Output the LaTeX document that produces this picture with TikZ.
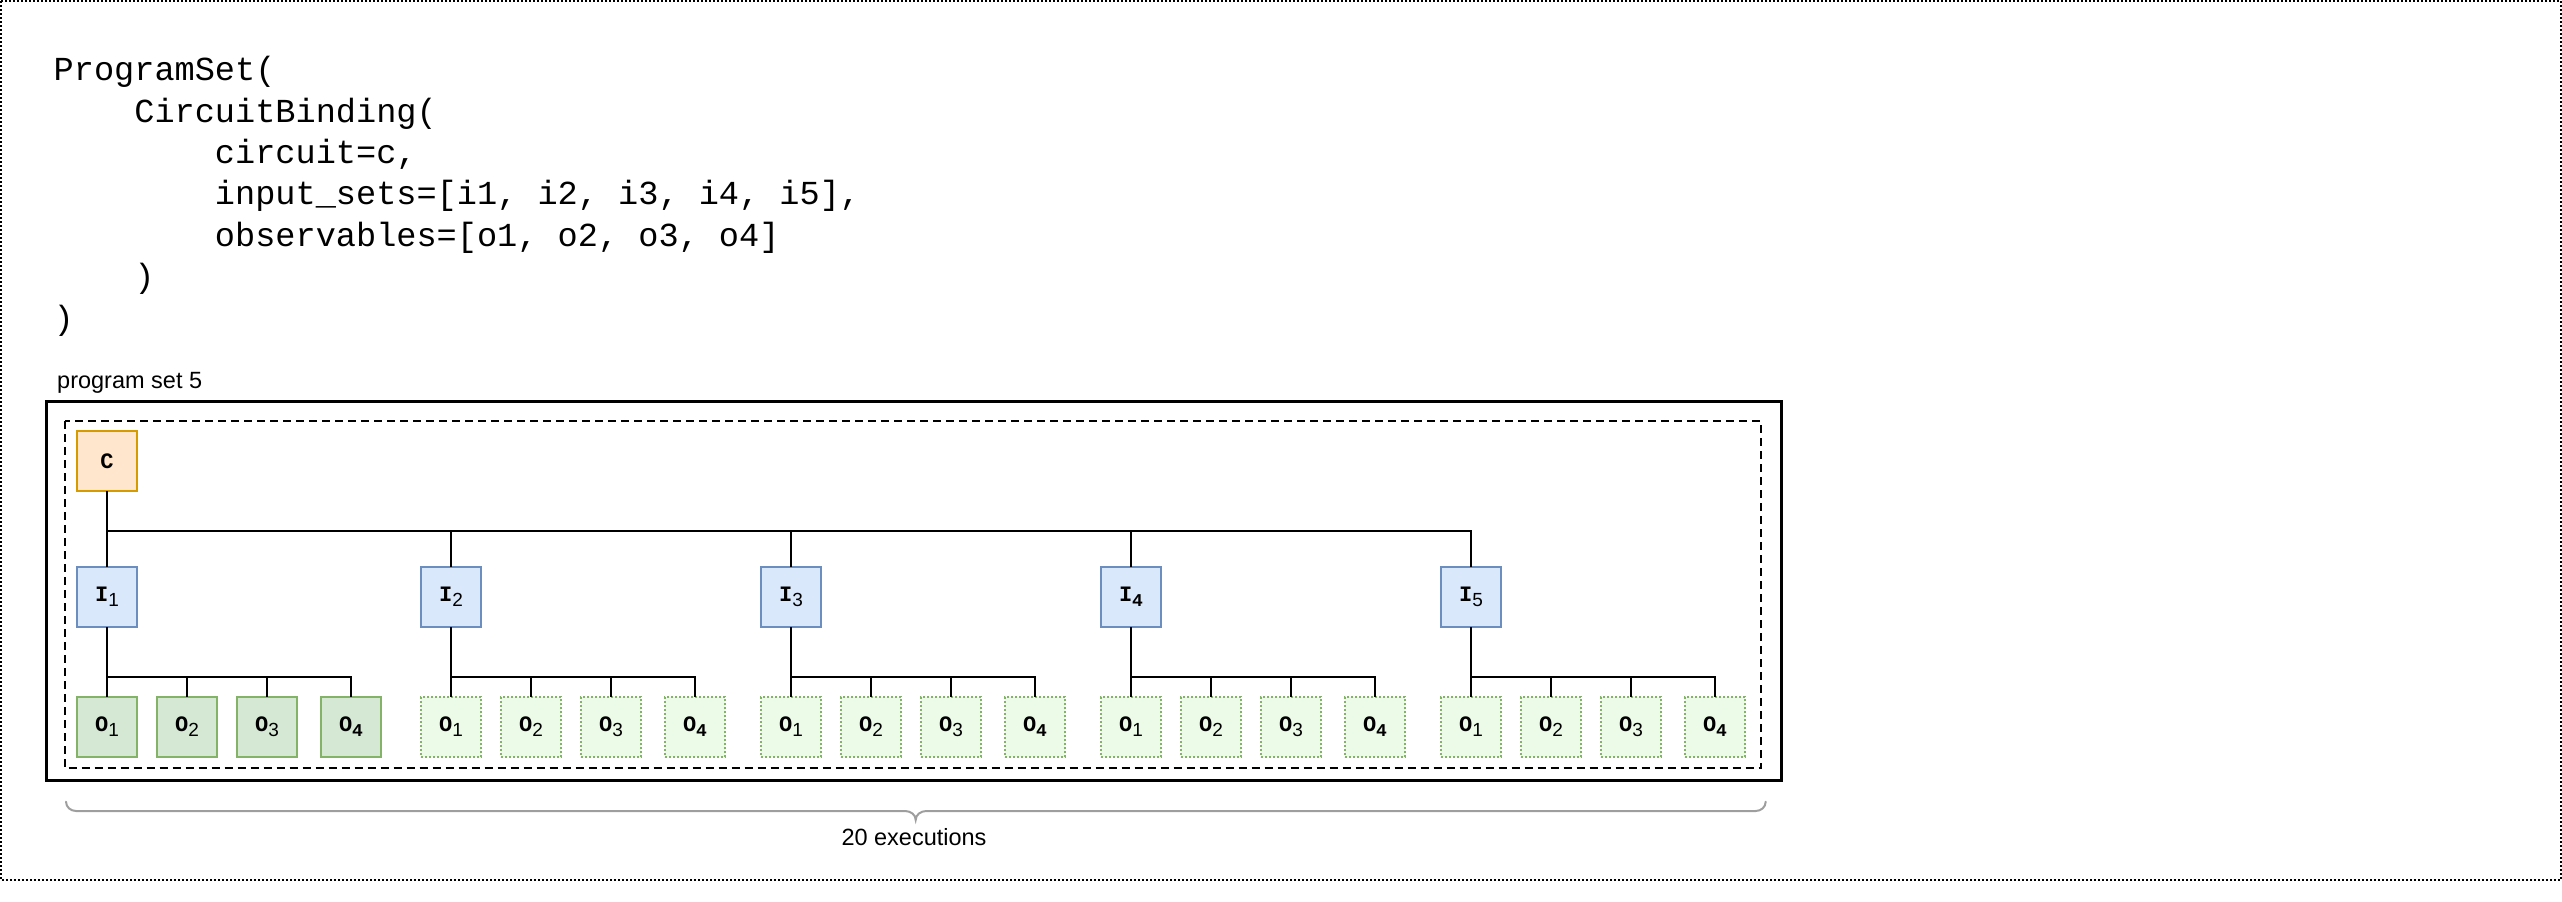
\documentclass[tikz,border=0pt]{standalone}
\usepackage{fontspec}
\setsansfont{Liberation Sans}
\setmonofont{Liberation Mono}
\usetikzlibrary{calc}
\definecolor{circfill}{HTML}{FFE6CC}
\definecolor{circline}{HTML}{D79B00}
\definecolor{inpfill}{HTML}{DAE8FC}
\definecolor{inpline}{HTML}{6C8EBF}
\definecolor{obsfill}{HTML}{D5E8D4}
\definecolor{obsline}{HTML}{82B366}
\definecolor{ghostfill}{HTML}{ECFAE8}
\definecolor{bracegray}{HTML}{9E9E9E}

\newcommand{\subdigit}[1]{\ifnum#1=4\relax{\fontsize{18}{18}\selectfont\ttfamily\bfseries 4}\else{\fontsize{19}{19}\selectfont\sffamily #1}\fi}
\newcommand{\boxlabel}[2]{{\ttfamily\bfseries #1}\raisebox{-5pt}{\subdigit{#2}}}

\begin{document}
\begin{tikzpicture}[x=1pt,y=1pt,
	conn/.style={line width=2pt},
	sq/.style={line width=2pt,minimum width=60pt,minimum height=60pt,inner sep=0pt,outer sep=0pt,font=\fontsize{22}{22}\selectfont},
	cbox/.style={sq,draw=circline,fill=circfill},
	ibox/.style={sq,draw=inpline,fill=inpfill},
	obox/.style={sq,draw=obsline,fill=obsfill},
	gbox/.style={sq,draw=obsline,fill=ghostfill,dash pattern=on 2pt off 2pt},
	code/.style={anchor=base west,inner sep=0pt,font=\fontsize{33.6}{41.4}\selectfont\ttfamily},
	caption/.style={inner sep=0pt,font=\fontsize{23.5}{23.5}\selectfont\sffamily},
	brace/.style={draw=bracegray,line width=2pt,line cap=round}]
	\useasboundingbox (0,0) rectangle (2562,-902);
	
	% outer frame
	\draw[line width=2pt,dash pattern=on 2pt off 2pt] (1,-1) rectangle (2561,-880);
	
	% code
	\foreach \ind/\txt [count=\n] in {0/{ProgramSet(},4/{CircuitBinding(},8/{circuit=c,},8/{input\_sets=[i1, i2, i3, i4, i5],},8/{observables=[o1, o2, o3, o4]},4/{)},0/{)}}{
		\node[code] (line\n) at ({53.5+20.16*\ind},{-80.7-41.4*(\n-1)}) {\txt};}
	
	% program set
	\node[caption,anchor=base west] (setname) at (57,-388.3) {program set 5};
	\draw[line width=3pt] (46,-401) rectangle (1781,-780.7);
	\draw[line width=2pt,dash pattern=on 8pt off 5pt] (65,-421) rectangle (1761,-768.3);
	
	\node[cbox] (c) at (107,-461) {\ttfamily\bfseries C};
	
	\foreach \g/\x/\st in {1/107/obox,2/451/gbox,3/791/gbox,4/1131/gbox,5/1471/gbox}{
		\node[ibox] (i\g) at (\x,-597) {\boxlabel{I}{\g}};
		\draw[conn] (c.south) -- ++(0,-40) -| (i\g.north);
		\foreach \k/\dx in {1/0,2/80,3/160,4/244}{
			\node[\st] (o\g\k) at (\x+\dx,-727) {\boxlabel{O}{\k}};
			\draw[conn] (i\g.south) -- ++(0,-49.7) -| (o\g\k.north);}
	}
	
	% brace
	\draw[brace] (66,-801.7) to[out=-90,in=180] (76,-811) -- (905,-811)
		to[out=0,in=90] (915.7,-820) to[out=90,in=180] (926.4,-811) -- (1755.7,-811)
		to[out=0,in=-90] (1765.7,-801.7);
	\node[caption,anchor=base] (runs) at (914,-845) {20 executions};
\end{tikzpicture}
\end{document}
